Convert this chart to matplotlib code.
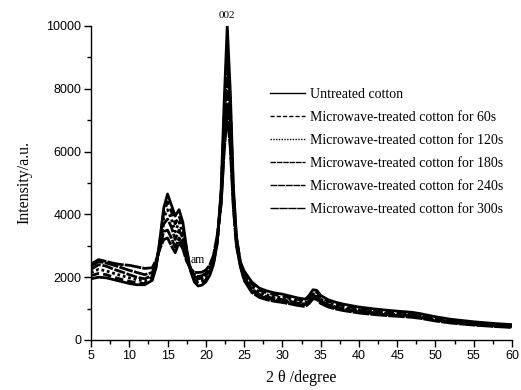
import matplotlib
matplotlib.use("Agg")
import matplotlib.pyplot as plt
from matplotlib.ticker import MultipleLocator

two_theta = [5, 6, 7, 8, 9, 10, 11, 12, 13, 13.5, 14, 14.5, 15, 15.5, 16, 16.5, 17, 17.5, 18, 18.5,
             19, 19.5, 20, 20.5, 21, 21.5, 22, 22.4, 22.8, 23.2, 23.6, 24, 24.5, 25, 26, 27, 28, 29,
             30, 31, 32, 33, 33.5, 34, 34.5, 35, 36, 37, 38, 40, 42, 44, 46, 47, 48, 50, 52, 55, 58, 60]

untreated = [1950, 2000, 1980, 1920, 1860, 1800, 1760, 1760, 1900, 2300, 3200, 4200, 4650, 4300, 3950, 4150, 3750, 2900, 2200, 1850,
             1720, 1750, 1850, 2050, 2400, 3100, 4800, 7600, 10000, 7900, 4900, 3300, 2500, 2200,
             1850, 1650, 1560, 1500, 1460, 1400, 1340, 1300, 1420, 1600, 1580, 1420, 1280, 1200, 1140, 1050, 990, 940, 900, 880, 840, 740, 660, 580, 520, 490]
mw_60 = [2050, 2120, 2080, 2000, 1930, 1870, 1820, 1800, 1950, 2350, 3150, 4050, 4400, 4100, 3700, 3950, 3600, 2850, 2250, 1930,
         1800, 1820, 1920, 2100, 2450, 3100, 4700, 7200, 9300, 7500, 4700, 3250, 2480, 2120,
         1780, 1580, 1500, 1440, 1400, 1340, 1290, 1250, 1360, 1540, 1520, 1360, 1230, 1150, 1090, 1010, 950, 900, 860, 845, 805, 710, 635, 555, 500, 470]
mw_120 = [2150, 2250, 2200, 2120, 2050, 1980, 1920, 1880, 2000, 2380, 3100, 3900, 4150, 3850, 3450, 3750, 3400, 2750, 2250, 1980,
          1870, 1890, 1980, 2150, 2500, 3150, 4600, 6900, 8900, 7200, 4600, 3200, 2450, 2060,
          1700, 1520, 1435, 1380, 1345, 1290, 1235, 1195, 1305, 1470, 1455, 1305, 1180, 1105, 1050, 965, 910, 865, 830, 810, 775, 680, 605, 535, 480, 450]
mw_180 = [2250, 2400, 2350, 2250, 2170, 2080, 2000, 1950, 2050, 2400, 3000, 3700, 3850, 3600, 3200, 3500, 3250, 2650, 2250, 2030,
          1950, 1970, 2050, 2200, 2550, 3200, 4500, 6600, 8400, 6900, 4500, 3150, 2420, 2000,
          1630, 1450, 1375, 1320, 1285, 1230, 1180, 1145, 1250, 1410, 1390, 1250, 1125, 1055, 1005, 925, 870, 825, 790, 775, 740, 650, 580, 510, 460, 430]
mw_240 = [2350, 2500, 2450, 2380, 2300, 2220, 2150, 2080, 2150, 2450, 2950, 3450, 3500, 3250, 2950, 3250, 3050, 2550, 2250, 2080,
          2020, 2050, 2120, 2280, 2600, 3250, 4400, 6200, 7500, 6300, 4300, 3050, 2380, 1950,
          1570, 1400, 1325, 1275, 1240, 1190, 1140, 1105, 1205, 1360, 1345, 1205, 1090, 1020, 970, 895, 840, 800, 765, 750, 715, 630, 560, 495, 440, 415]
mw_300 = [2420, 2560, 2500, 2440, 2400, 2380, 2330, 2280, 2300, 2550, 2900, 3200, 3250, 3000, 2780, 3100, 2900, 2500, 2280, 2150,
          2150, 2160, 2230, 2380, 2700, 3350, 4300, 6000, 7200, 6100, 4200, 3000, 2350, 1900,
          1515, 1355, 1280, 1230, 1195, 1150, 1100, 1065, 1165, 1310, 1295, 1165, 1050, 985, 935, 860, 810, 770, 740, 720, 690, 605, 540, 475, 425, 400]

labels = ["Untreated cotton",
          "Microwave-treated cotton for 60s",
          "Microwave-treated cotton for 120s",
          "Microwave-treated cotton for 180s",
          "Microwave-treated cotton for 240s",
          "Microwave-treated cotton for 300s"]
series = [untreated, mw_60, mw_120, mw_180, mw_240, mw_300]
styles = ["-", (0, (3, 1.5)), (0, (1, 1)), (0, (4, 0.6)), (0, (5, 0.5)), (0, (6, 0.4))]

x_ticks = [5, 10, 15, 20, 25, 30, 35, 40, 45, 50, 55, 60]
y_ticks = [0, 2000, 4000, 6000, 8000, 10000]

serif = "Liberation Serif"
sans = "Liberation Sans"

fig = plt.figure(figsize=(5.21, 3.90), dpi=100)
ax = fig.add_axes([91 / 521, 50 / 390, (512 - 91) / 521, (340 - 26) / 390])

for ys, ls, lab in zip(series, styles, labels):
    ax.plot(two_theta, ys, color="black", linestyle=ls, linewidth=2.0, label=lab)

ax.set_xlim(5, 60)
ax.set_ylim(0, 10000)
ax.set_xticks(x_ticks)
ax.set_yticks(y_ticks)
ax.xaxis.set_minor_locator(MultipleLocator(2.5))
ax.yaxis.set_minor_locator(MultipleLocator(1000))
for side in ["top", "right"]:
    ax.spines[side].set_visible(False)
for side in ["left", "bottom"]:
    ax.spines[side].set_linewidth(1.0)
ax.tick_params(which="major", direction="out", length=5, width=1.0, labelsize=9, pad=2)
ax.tick_params(which="minor", direction="out", length=3, width=1.0)
for t in ax.get_xticklabels() + ax.get_yticklabels():
    t.set_fontfamily(sans)

ax.set_xlabel("2 θ /degree", fontfamily=serif, fontsize=11.5, labelpad=6)
ax.set_ylabel("Intensity/a.u.", fontfamily=serif, fontsize=11.5, labelpad=10)

ax.text(22.8, 10200, "002", ha="center", va="bottom", fontfamily=serif, fontsize=8, clip_on=False)
ax.text(19.0, 2560, "am", ha="center", va="center", fontfamily=serif, fontsize=8.5)

leg = ax.legend(loc="upper left", bbox_to_anchor=(270 / 521, 1 - 88 / 390),
                bbox_transform=fig.transFigure, frameon=False,
                prop={"family": serif, "size": 10}, handlelength=2.5, handletextpad=0.35,
                labelspacing=0.72, borderpad=0, borderaxespad=0)
for line in leg.get_lines():
    line.set_linewidth(1.0)

fig.savefig("out.png", dpi=100)
